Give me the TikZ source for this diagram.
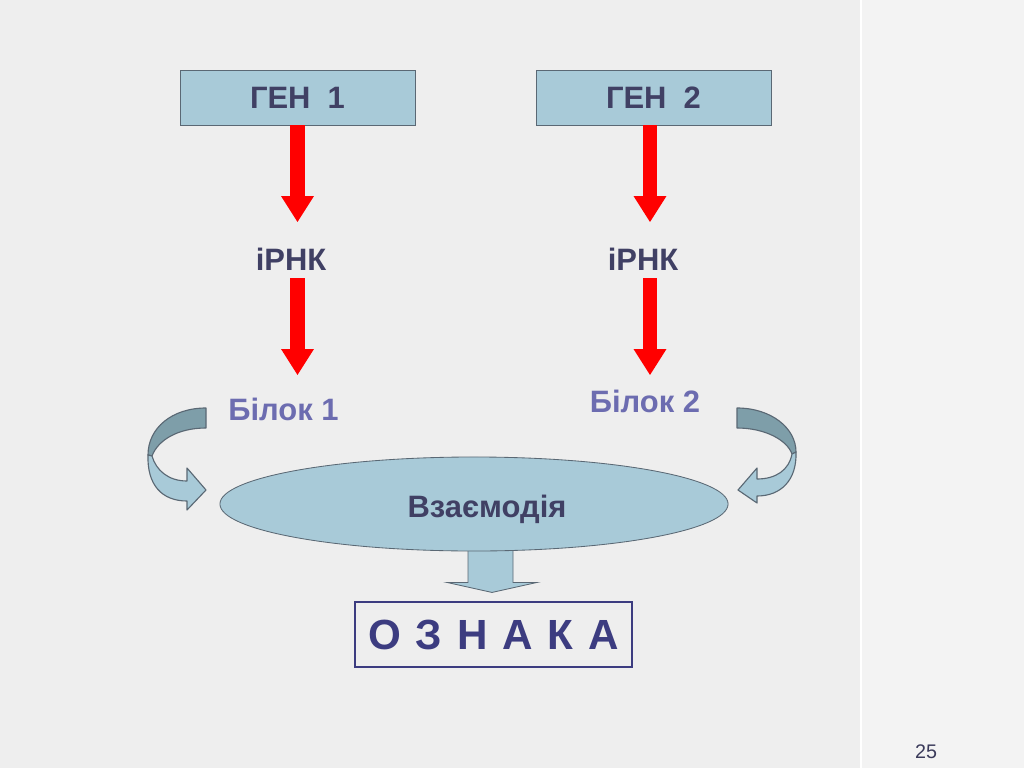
\documentclass[tikz,border=0pt]{standalone}
\usepackage{fontspec}
\setmainfont{Liberation Sans}
\usetikzlibrary{arrows.meta,shapes.geometric,calc}
\definecolor{bg}{RGB}{238,238,238}
\definecolor{bgstrip}{RGB}{243,243,243}
\definecolor{boxblue}{RGB}{168,202,216}
\definecolor{boxline}{RGB}{90,104,116}
\definecolor{darkband}{RGB}{126,158,169}
\definecolor{navytext}{RGB}{64,64,100}
\definecolor{bilokcol}{RGB}{108,108,176}
\definecolor{ozncol}{RGB}{60,60,128}

\begin{document}
\begin{tikzpicture}[x=0.025cm,y=-0.025cm,
    genbox/.style={draw=boxline,fill=boxblue,minimum width=5.875cm,minimum height=1.375cm,inner sep=0pt,
      font=\fontsize{22}{26}\selectfont\bfseries,text=navytext},
    word/.style={inner sep=0pt,outer sep=0pt,anchor=base,font=\fontsize{22}{26}\selectfont\bfseries},
    redarrow/.style={draw=red,line width=10pt,-{Triangle[width=23.4pt,length=18.4pt,line width=0pt]}},
    band/.style={draw=boxline,line width=0.8pt,line join=round}]
                    \useasboundingbox (0,0) rectangle (1024,768);
                    \fill[bg] (0,0) rectangle (1024,768);
                    \fill[bgstrip] (861,0) rectangle (1024,768);
                    \draw[white,line width=1pt] (861,0) -- (861,768);

                    \node[genbox] (gen1) at (297.5,97.5) {ГЕН~~1};
                    \node[genbox] (gen2) at (653.5,97.5) {ГЕН~~2};
                    \node[word,text=navytext] (irnk1) at (291,270) {іРНК};
                    \node[word,text=navytext] (irnk2) at (643,270) {іРНК};
                    \node[word,text=bilokcol] (bilok1) at (283.5,420) {Білок 1};
                    \node[word,text=bilokcol] (bilok2) at (645,412) {Білок 2};
                    \node[draw=ozncol,line width=0.8pt,minimum width=6.925cm,minimum height=1.625cm,inner sep=0pt,
                      text=ozncol,font=\fontsize{30}{34}\selectfont\bfseries] (oznaka) at (493.5,634.5)
                      {О\hspace{0.35em}З\hspace{0.35em}Н\hspace{0.35em}А\hspace{0.35em}К\hspace{0.35em}А};

                    \filldraw[fill=boxblue,draw=boxline,line width=0.6pt] ($(oznaka.north)+(-25.5,-62)$) -- ++(0,43) -- ++(-21,0)
                      -- ++(45,10) -- ++(45,-10) -- ++(-24,0) -- ++(0,-43) -- cycle;
                    \node[ellipse,draw=boxline,fill=boxblue,line width=0.6pt,minimum width=12.7cm,minimum height=2.35cm] (vz) at (474,504) {};
                    \node[word,text=navytext] (vztext) at (487,517) {Взаємодія};

                    \draw[redarrow,shorten >=18.2pt] (gen1) -- (gen1 |- irnk1.north);
                    \draw[redarrow,shorten <=5.7pt,shorten >=16.1pt] (gen1 |- irnk1.south) -- (gen1 |- bilok1.north);
                    \draw[redarrow,shorten >=18.2pt] (gen2.south -| 650,0) -- (650,0 |- irnk2.north);
                    \draw[redarrow,shorten <=5.7pt,shorten >=10.4pt] (650,0 |- irnk2.south) -- (650,0 |- bilok2.north);

                    \filldraw[band,fill=darkband] (206,408) .. controls (172,408) and (148,428) .. (148,455) -- (152,456)
                      .. controls (158,440) and (178,428) .. (206,428) -- cycle;
                    \filldraw[band,fill=boxblue] (148,455) .. controls (147,485) and (162,501) .. (187,501) -- (187,510)
                      -- (206,490) -- (187,468) -- (187,481) .. controls (168,481) and (156,470) .. (152,456) -- cycle;
                    \filldraw[band,fill=darkband] (737,408) .. controls (771,408) and (796,428) .. (796,452) -- (792,454)
                      .. controls (787,440) and (765,428) .. (737,428) -- cycle;
                    \filldraw[band,fill=boxblue] (796,452) .. controls (797,480) and (781,496) .. (757,496) -- (757,503)
                      -- (738,490) -- (757,468) -- (757,479) .. controls (776,479) and (789,470) .. (792,454) -- cycle;

                    \node[inner sep=0pt,anchor=base,text=navytext!90!black,font=\fontsize{14}{16}\selectfont] (page) at (926,758) {25};
                \end{tikzpicture}
\end{document}
